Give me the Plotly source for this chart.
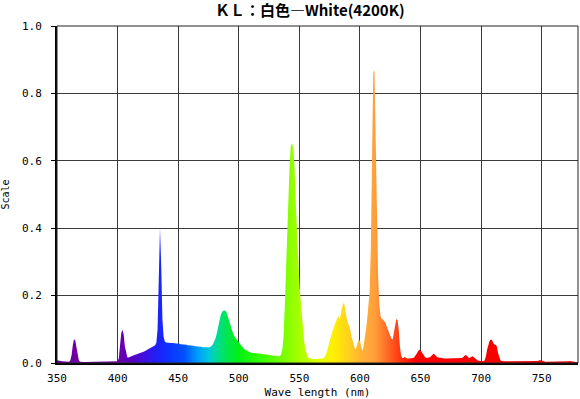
import plotly.graph_objects as go

# ---------------- data ----------------
wl_start = 350
wl_end = 780
wavelengths = list(range(wl_start, wl_end + 1))  # 1 nm sampling

intensity = [
    0.008, 0.008, 0.007, 0.006, 0.005, 0.005, 0.004, 0.003, 0.003, 0.003,  # 350
    0.004, 0.008, 0.022, 0.052, 0.070, 0.068, 0.045, 0.020, 0.008, 0.004,  # 360
    0.003, 0.003, 0.003, 0.003, 0.003, 0.003, 0.003, 0.004, 0.005, 0.004,  # 370
    0.003, 0.003, 0.003, 0.003, 0.003, 0.003, 0.003, 0.003, 0.003, 0.003,  # 380
    0.003, 0.003, 0.003, 0.003, 0.003, 0.003, 0.003, 0.003, 0.004, 0.004,  # 390
    0.005, 0.014, 0.045, 0.088, 0.099, 0.085, 0.050, 0.027, 0.017, 0.016,  # 400
    0.017, 0.019, 0.021, 0.022, 0.024, 0.025, 0.026, 0.027, 0.028, 0.030,  # 410
    0.031, 0.033, 0.034, 0.036, 0.038, 0.040, 0.041, 0.043, 0.045, 0.047,  # 420
    0.050, 0.053, 0.060, 0.100, 0.250, 0.400, 0.290, 0.130, 0.078, 0.064,  # 430
    0.061, 0.060, 0.060, 0.060, 0.059, 0.059, 0.059, 0.058, 0.058, 0.058,  # 440
    0.057, 0.057, 0.056, 0.056, 0.055, 0.055, 0.054, 0.054, 0.053, 0.053,  # 450
    0.052, 0.052, 0.051, 0.051, 0.050, 0.050, 0.049, 0.049, 0.048, 0.048,  # 460
    0.047, 0.047, 0.046, 0.046, 0.046, 0.046, 0.047, 0.049, 0.052, 0.058,  # 470
    0.066, 0.075, 0.090, 0.108, 0.125, 0.140, 0.150, 0.155, 0.156, 0.155,  # 480
    0.150, 0.140, 0.128, 0.115, 0.102, 0.090, 0.082, 0.076, 0.072, 0.068,  # 490
    0.062, 0.057, 0.052, 0.047, 0.043, 0.040, 0.038, 0.036, 0.034, 0.032,  # 500
    0.031, 0.030, 0.030, 0.029, 0.029, 0.028, 0.028, 0.028, 0.027, 0.027,  # 510
    0.026, 0.026, 0.025, 0.025, 0.024, 0.024, 0.023, 0.023, 0.022, 0.022,  # 520
    0.021, 0.021, 0.020, 0.020, 0.021, 0.025, 0.040, 0.080, 0.170, 0.280,  # 530
    0.380, 0.500, 0.590, 0.645, 0.652, 0.638, 0.585, 0.480, 0.380, 0.300,  # 540
    0.240, 0.190, 0.140, 0.100, 0.065, 0.040, 0.025, 0.018, 0.014, 0.013,  # 550
    0.012, 0.012, 0.012, 0.012, 0.012, 0.012, 0.012, 0.012, 0.012, 0.013,  # 560
    0.015, 0.018, 0.025, 0.035, 0.050, 0.065, 0.080, 0.090, 0.100, 0.110,  # 570
    0.120, 0.130, 0.140, 0.130, 0.140, 0.160, 0.175, 0.178, 0.150, 0.135,  # 580
    0.120, 0.110, 0.100, 0.080, 0.065, 0.050, 0.040, 0.045, 0.060, 0.070,  # 590
    0.065, 0.050, 0.035, 0.050, 0.070, 0.100, 0.130, 0.170, 0.210, 0.340,  # 600
    0.620, 0.860, 0.870, 0.680, 0.420, 0.260, 0.175, 0.140, 0.130, 0.130,  # 610
    0.125, 0.120, 0.110, 0.100, 0.090, 0.080, 0.072, 0.070, 0.090, 0.120,  # 620
    0.130, 0.128, 0.100, 0.050, 0.022, 0.015, 0.015, 0.018, 0.015, 0.013,  # 630
    0.013, 0.013, 0.013, 0.014, 0.015, 0.018, 0.022, 0.028, 0.035, 0.039,  # 640
    0.038, 0.032, 0.025, 0.019, 0.016, 0.015, 0.015, 0.016, 0.018, 0.022,  # 650
    0.027, 0.028, 0.024, 0.020, 0.017, 0.016, 0.015, 0.014, 0.014, 0.014,  # 660
    0.013, 0.013, 0.013, 0.013, 0.013, 0.013, 0.014, 0.014, 0.013, 0.013,  # 670
    0.013, 0.013, 0.014, 0.014, 0.015, 0.016, 0.020, 0.024, 0.022, 0.018,  # 680
    0.015, 0.016, 0.019, 0.020, 0.017, 0.013, 0.010, 0.008, 0.007, 0.006,  # 690
    0.005, 0.005, 0.005, 0.008, 0.020, 0.040, 0.055, 0.065, 0.070, 0.068,  # 700
    0.060, 0.055, 0.054, 0.050, 0.030, 0.015, 0.008, 0.006, 0.005, 0.005,  # 710
    0.005, 0.005, 0.005, 0.005, 0.005, 0.005, 0.005, 0.005, 0.005, 0.005,  # 720
    0.005, 0.005, 0.005, 0.005, 0.005, 0.004, 0.004, 0.004, 0.004, 0.004,  # 730
    0.004, 0.004, 0.004, 0.004, 0.004, 0.004, 0.005, 0.006, 0.008, 0.009,  # 740
    0.008, 0.006, 0.004, 0.004, 0.004, 0.004, 0.004, 0.004, 0.004, 0.004,  # 750
    0.004, 0.004, 0.004, 0.003, 0.003, 0.003, 0.003, 0.003, 0.003, 0.003,  # 760
    0.003, 0.004, 0.005, 0.006, 0.005, 0.004, 0.003, 0.003, 0.003, 0.003,  # 770
    0.003,                                                                 # 780
]

x_ticks = [350, 400, 450, 500, 550, 600, 650, 700, 750]
y_ticks = [0.0, 0.2, 0.4, 0.6, 0.8, 1.0]
y_tick_labels = ["0.0", "0.2", "0.4", "0.6", "0.8", "1.0"]

title_text = "ＫＬ：白色―White(4200K)"
x_title = "Wave length (nm)"
y_title = "Scale"

# ---------------- style: wavelength -> display colour stops ----------------
color_stops = [
    (350, "rgb(110,0,160)"),
    (400, "rgb(110,0,170)"),
    (410, "rgb(90,0,190)"),
    (425, "rgb(55,20,230)"),
    (437, "rgb(20,40,255)"),
    (455, "rgb(0,80,255)"),
    (465, "rgb(0,150,255)"),
    (475, "rgb(0,200,220)"),
    (483, "rgb(0,220,140)"),
    (490, "rgb(0,230,80)"),
    (500, "rgb(0,240,20)"),
    (520, "rgb(60,255,0)"),
    (545, "rgb(150,255,0)"),
    (565, "rgb(220,255,0)"),
    (578, "rgb(255,240,0)"),
    (590, "rgb(255,210,30)"),
    (600, "rgb(255,180,50)"),
    (612, "rgb(255,160,60)"),
    (622, "rgb(255,110,40)"),
    (632, "rgb(255,60,20)"),
    (645, "rgb(255,0,0)"),
    (780, "rgb(240,0,0)"),
]
span = wl_end - wl_start
fill_scale = [[(w - wl_start) / span, c] for w, c in color_stops]

fig = go.Figure()
fig.add_trace(go.Scatter(
    x=wavelengths,
    y=intensity,
    mode="lines",
    line=dict(width=0, color="rgba(0,0,0,0)"),
    fill="tozeroy",
    fillgradient=dict(type="horizontal", colorscale=fill_scale),
    hoverinfo="x+y",
    showlegend=False,
))

mono = "DejaVu Sans Mono"
plot_h = 399 - 26 - 36
fig.update_layout(
    width=580,
    height=399,
    margin=dict(l=57, r=2, t=26, b=36, autoexpand=False),
    paper_bgcolor="white",
    plot_bgcolor="white",
    annotations=[dict(
        text=title_text,
        xref="paper", yref="paper",
        x=0.486, xanchor="center",
        y=1 + 16 / plot_h, yanchor="middle",
        showarrow=False,
        font=dict(family="Noto Sans CJK JP", size=15, color="black", weight="bold"),
    )],
    xaxis=dict(
        range=[wl_start, wl_end],
        tickmode="array",
        tickvals=x_ticks,
        ticktext=[str(v) for v in x_ticks],
        ticks="",
        ticklabelstandoff=4,
        showgrid=True,
        gridcolor="#3a3a3a",
        gridwidth=1,
        showline=True,
        linecolor="black",
        linewidth=2,
        zeroline=False,
        automargin=False,
        tickfont=dict(family=mono, size=11, color="black"),
        title=dict(text=x_title, font=dict(family=mono, size=11, color="black"), standoff=8),
    ),
    yaxis=dict(
        range=[0, 1],
        tickmode="array",
        tickvals=y_ticks,
        ticktext=y_tick_labels,
        ticks="outside",
        ticklen=4,
        tickcolor="black",
        ticklabelstandoff=7,
        showgrid=True,
        gridcolor="#3a3a3a",
        gridwidth=1,
        showline=True,
        linecolor="black",
        linewidth=2,
        zeroline=False,
        automargin=False,
        tickfont=dict(family=mono, size=11, color="black"),
        title=dict(text=y_title, font=dict(family=mono, size=10, color="black"), standoff=10),
    ),
    shapes=[dict(type="rect", xref="paper", yref="paper", x0=0, y0=0, x1=1, y1=1,
                 line=dict(color="#222222", width=1), fillcolor="rgba(0,0,0,0)", layer="above")],
)

fig.write_html("out.html", config={"displayModeBar": False},
               post_script="document.body.style.margin='0px';")
